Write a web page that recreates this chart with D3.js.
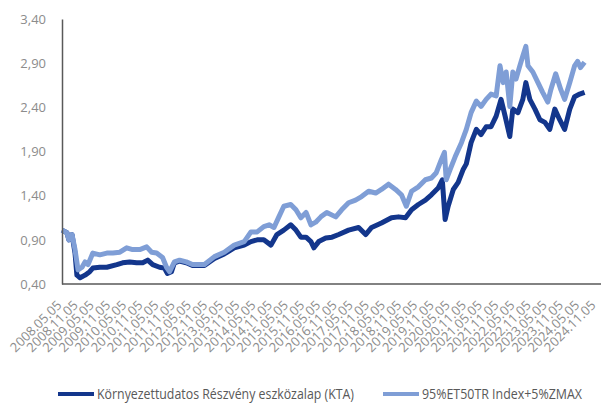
<!DOCTYPE html>
<meta charset="utf-8">
<title>KTA vs benchmark</title>
<style>
  body { margin: 0; background: #fff; }
  text { font-family: "Open Sans", "Liberation Sans", sans-serif; }
</style>
<body>
<svg id="chart" width="601" height="409"></svg>
<script src="https://cdn.jsdelivr.net/npm/d3@7"></script>
<script>

// fund (KTA), values
var fundDates = ["2008-05-05","2008-06-30","2008-07-22","2008-08-26","2008-09-29","2008-10-20","2008-11-25",
  "2009-01-20","2009-03-14","2009-04-18","2009-07-06","2009-09-23","2010-01-14","2010-03-20","2010-06-08",
  "2010-08-26","2010-11-02","2010-12-29","2011-02-23","2011-05-11","2011-07-05","2011-08-08","2011-09-23",
  "2011-10-26","2011-12-23","2012-03-08","2012-05-17","2012-09-29","2013-01-20","2013-05-11","2013-08-31",
  "2013-12-22","2014-03-08","2014-05-17","2014-07-31","2014-10-20","2014-12-26","2015-03-14","2015-05-31",
  "2015-07-29","2015-09-22","2015-11-20","2016-01-14","2016-02-17","2016-04-11","2016-06-29","2016-09-08",
  "2016-11-23","2017-03-14","2017-07-05","2017-09-23","2017-11-29","2018-03-20","2018-07-11","2018-09-29",
  "2018-12-17","2019-02-23","2019-05-11","2019-07-29","2019-10-05","2019-12-23","2020-02-05","2020-03-08",
  "2020-04-11","2020-06-08","2020-08-02","2020-09-29","2020-11-02","2020-12-26","2021-02-23","2021-04-17",
  "2021-06-14","2021-08-08","2021-10-05","2021-11-29","2022-01-14","2022-03-08","2022-04-11","2022-06-08",
  "2022-08-02","2022-09-05","2022-10-20","2022-12-17","2023-02-11","2023-04-08","2023-06-02","2023-07-29",
  "2023-09-22","2023-11-17","2024-01-14","2024-03-08","2024-05-05","2024-06-29"];
var fundValues = [1.01,0.98,0.90,0.96,0.75,0.50,0.47,
  0.50,0.54,0.58,0.59,0.59,0.62,0.64,0.65,
  0.64,0.64,0.67,0.62,0.59,0.58,0.52,0.54,
  0.64,0.66,0.64,0.61,0.61,0.69,0.74,0.81,
  0.84,0.88,0.90,0.90,0.84,0.96,1.01,1.07,
  1.01,0.93,0.93,0.88,0.81,0.88,0.92,0.93,
  0.96,1.01,1.04,0.96,1.04,1.09,1.15,1.16,
  1.15,1.24,1.30,1.35,1.41,1.49,1.58,1.13,
  1.28,1.47,1.55,1.70,1.76,2.00,2.15,2.09,
  2.18,2.18,2.30,2.49,2.30,2.07,2.38,2.34,
  2.49,2.68,2.49,2.38,2.26,2.23,2.15,2.38,
  2.26,2.15,2.38,2.52,2.55,2.57];

// benchmark: 95%ET50TR Index + 5%ZMAX
var benchDates = ["2008-05-05","2008-06-30","2008-07-22","2008-08-26","2008-09-29","2008-11-02","2008-12-17",
  "2009-01-20","2009-02-23","2009-04-18","2009-07-06","2009-09-23","2009-11-30","2010-02-17","2010-05-05",
  "2010-07-11","2010-09-29","2010-12-17","2011-02-11","2011-04-08","2011-06-14","2011-07-29","2011-09-01",
  "2011-10-26","2011-12-23","2012-03-08","2012-05-17","2012-09-29","2013-01-20","2013-05-11","2013-08-31",
  "2013-12-22","2014-03-08","2014-05-17","2014-07-31","2014-09-29","2014-11-23","2015-01-17","2015-03-14",
  "2015-05-31","2015-07-29","2015-09-22","2015-11-20","2016-01-14","2016-03-08","2016-05-05","2016-07-11",
  "2016-10-20","2016-12-26","2017-03-14","2017-06-01","2017-08-08","2017-10-26","2018-01-14","2018-03-20",
  "2018-06-08","2018-08-26","2018-11-01","2018-12-26","2019-02-23","2019-05-11","2019-07-29","2019-10-05",
  "2019-11-29","2020-01-26","2020-02-29","2020-03-20","2020-05-05","2020-06-29","2020-09-08","2020-11-02",
  "2020-12-26","2021-02-23","2021-04-17","2021-06-14","2021-08-08","2021-10-05","2021-11-17","2021-12-23",
  "2022-01-26","2022-03-08","2022-04-11","2022-05-17","2022-06-29","2022-08-02","2022-09-05","2022-09-29",
  "2022-11-23","2023-01-20","2023-03-14","2023-05-11","2023-06-14","2023-08-08","2023-10-05","2023-11-17",
  "2024-01-14","2024-03-08","2024-04-11","2024-05-14","2024-06-29"];
var benchValues = [1.01,0.98,0.90,0.96,0.79,0.56,0.59,
  0.65,0.62,0.75,0.73,0.75,0.75,0.76,0.81,
  0.79,0.79,0.82,0.76,0.75,0.70,0.59,0.54,
  0.65,0.67,0.65,0.62,0.62,0.71,0.76,0.84,
  0.88,0.99,0.99,1.05,1.07,1.04,1.16,1.28,
  1.30,1.24,1.15,1.21,1.07,1.10,1.16,1.21,
  1.16,1.24,1.32,1.35,1.39,1.45,1.43,1.47,
  1.53,1.47,1.41,1.28,1.45,1.50,1.58,1.60,
  1.66,1.81,1.89,1.58,1.70,1.84,2.00,2.15,
  2.34,2.47,2.41,2.49,2.55,2.53,2.87,2.68,
  2.80,2.41,2.80,2.72,2.87,2.98,3.09,2.87,
  2.80,2.68,2.57,2.46,2.60,2.78,2.60,2.49,
  2.68,2.87,2.92,2.85,2.91];

var yTicks = [0.4, 0.9, 1.4, 1.9, 2.4, 2.9, 3.4];
var xTickLabels = ["2008.05.05","2008.11.05","2009.05.05","2009.11.05","2010.05.05","2010.11.05",
  "2011.05.05","2011.11.05","2012.05.05","2012.11.05","2013.05.05","2013.11.05","2014.05.05","2014.11.05",
  "2015.05.05","2015.11.05","2016.05.05","2016.11.05","2017.05.05","2017.11.05","2018.05.05","2018.11.05",
  "2019.05.05","2019.11.05","2020.05.05","2020.11.05","2021.05.05","2021.11.05","2022.05.05","2022.11.05",
  "2023.05.05","2023.11.05","2024.05.05","2024.11.05"];
var seriesNames = ["Környezettudatos Részvény eszközalap (KTA)", "95%ET50TR Index+5%ZMAX"];

var darkBlue = "#13368c",
    lightBlue = "#7f9ed6",
    labelGrey = "#8c8c8c";

var parse = d3.timeParse("%Y-%m-%d"),
    parseTick = d3.timeParse("%Y.%m.%d");

var svg = d3.select("#chart");

var x = d3.scaleTime()
    .domain([parseTick(xTickLabels[0]), parseTick(xTickLabels[xTickLabels.length - 1])])
    .range([62, 596]);

var y = d3.scaleLinear()
    .domain([0.4, 3.4])
    .range([284, 19]);

var fund = fundDates.map(function(d, i) { return {date: parse(d), value: fundValues[i]}; });
var bench = benchDates.map(function(d, i) { return {date: parse(d), value: benchValues[i]}; });

var line = d3.line()
    .x(function(d) { return x(d.date); })
    .y(function(d) { return y(d.value); });

// series (benchmark drawn last, like the original)
svg.append("path")
    .datum(fund)
    .attr("fill", "none")
    .attr("stroke", darkBlue)
    .attr("stroke-width", 5)
    .attr("stroke-linejoin", "round")
    .attr("d", line);

svg.append("path")
    .datum(bench)
    .attr("fill", "none")
    .attr("stroke", lightBlue)
    .attr("stroke-width", 5)
    .attr("stroke-linejoin", "round")
    .attr("d", line);

// y axis
var yAxis = svg.append("g")
    .attr("transform", "translate(62,0)")
    .call(d3.axisLeft(y)
      .tickValues(yTicks)
      .tickSize(0)
      .tickPadding(16)
      .tickFormat(function(d) { return d3.format(".2f")(d).replace(".", ","); }));
yAxis.select(".domain").attr("stroke", "#595959").attr("stroke-width", 1.5);
yAxis.selectAll("text")
    .attr("fill", labelGrey)
    .style("font-size", "13px")
    .style("font-family", "'Open Sans', sans-serif");

// x axis
var xAxis = svg.append("g")
    .attr("transform", "translate(0,284)")
    .call(d3.axisBottom(x)
      .tickValues(xTickLabels.map(parseTick))
      .tickSize(0)
      .tickFormat(d3.timeFormat("%Y.%m.%d")));
xAxis.select(".domain").attr("stroke", "#595959").attr("stroke-width", 1.5)
    .attr("d", "M62,0H601");
xAxis.selectAll("text")
    .attr("fill", labelGrey)
    .style("font-size", "13px")
    .style("font-family", "'Open Sans', sans-serif")
    .attr("text-anchor", "end")
    .attr("dy", 0)
    .attr("y", 0)
    .attr("transform", "translate(0,22) rotate(-45)");

// legend
var legend = svg.append("g").attr("transform", "translate(0,394)");
var legendX = [58, 383];
var legendWidths = [257, 160];
var legendColors = [darkBlue, lightBlue];
seriesNames.forEach(function(name, i) {
  legend.append("line")
      .attr("x1", legendX[i]).attr("x2", legendX[i] + 36)
      .attr("y1", 0).attr("y2", 0)
      .attr("stroke", legendColors[i])
      .attr("stroke-width", 4);
  legend.append("text")
      .attr("x", legendX[i] + 39)
      .attr("y", 0)
      .attr("dy", "0.35em")
      .attr("fill", "#595959")
      .attr("textLength", legendWidths[i])
      .attr("lengthAdjust", "spacingAndGlyphs")
      .style("font-size", "14px")
      .style("font-family", "'Open Sans', sans-serif")
      .text(name);
});

</script>
</body>
